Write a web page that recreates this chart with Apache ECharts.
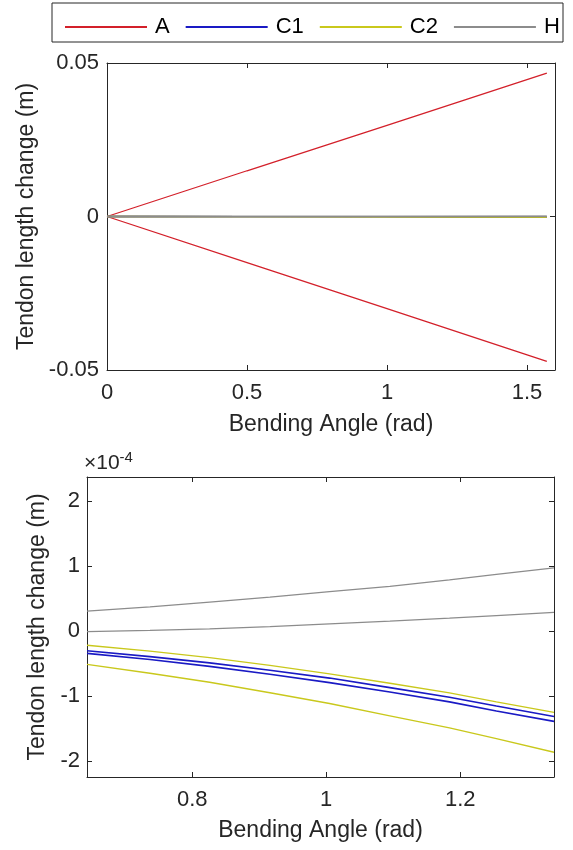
<!DOCTYPE html>
<html>
<head>
<meta charset="utf-8">
<script src="https://cdn.jsdelivr.net/npm/echarts@6/dist/echarts.min.js"></script>
<style>
html,body{margin:0;padding:0;background:#fff;}
#chart{width:573px;height:850px;}
</style>
</head>
<body>
<div id="chart"></div>
<script>
// ---------- data ----------
const seriesNames = ['A', 'C1', 'C2', 'H'];
const seriesColors = ['#d3202a', '#1a1ac4', '#c9c81c', '#8c8c8c'];

// Top panel (full range, metres)
const topX = [0, 0.5, 1.0, 1.5708];
const topA1 = [0, 0.0149, 0.0297, 0.0467];
const topA2 = [0, -0.0150, -0.0300, -0.0472];
const topC1a = [0, -0.00001, -0.00007, -0.00016];
const topC1b = [0, -0.00001, -0.00008, -0.00017];
const topC2a = [0, -0.00001, -0.00007, -0.00015];
const topC2b = [0, -0.00002, -0.00011, -0.00022];
const topHa = [0, 0.00002, 0.00006, 0.00011];
const topHb = [0, 0.00000, 0.00001, 0.00004];

// Bottom panel (zoom, units of 1e-4 m)
const botX = [0.643, 0.737, 0.826, 0.916, 1.005, 1.095, 1.184, 1.254, 1.340];
const botHa = [0.31, 0.375, 0.446, 0.523, 0.61, 0.69, 0.79, 0.875, 0.975];
const botHb = [-0.005, 0.012, 0.035, 0.07, 0.113, 0.155, 0.20, 0.24, 0.29];
const botC2a = [-0.215, -0.305, -0.405, -0.525, -0.655, -0.80, -0.948, -1.085, -1.246];
const botC1a = [-0.30, -0.39, -0.486, -0.60, -0.72, -0.866, -1.015, -1.15, -1.31];
const botC1b = [-0.34, -0.435, -0.54, -0.66, -0.79, -0.935, -1.086, -1.225, -1.385];
const botC2b = [-0.51, -0.645, -0.785, -0.945, -1.11, -1.30, -1.486, -1.65, -1.86];

// axis ranges / ticks
const topYTicks = [-0.05, 0, 0.05];
const topXRange = [0, 1.6];
const botXRange = [0.643, 1.34];
const botYRange = [-2.24, 2.37];

// ---------- chart ----------
const FONT = 'Liberation Sans, Arial, Helvetica, sans-serif';
const AX = '#262626';
function pairs(xs, ys) { return xs.map((x, i) => [x, ys[i]]); }

function mkLine(name, xs, ys, grid, width) {
  const ci = seriesNames.indexOf(name);
  return {
    type: 'line', name: name, xAxisIndex: grid * 2, yAxisIndex: grid * 2,
    data: pairs(xs, ys), symbol: 'none', smooth: false, animation: false,
    lineStyle: { color: seriesColors[ci], width: width },
    itemStyle: { color: seriesColors[ci] }, clip: true
  };
}

function xAx(grid, min, max, interval, name, gap, primary) {
  const o = {
    type: 'value', gridIndex: grid, min: min, max: max,
    position: primary ? 'bottom' : 'top',
    axisLine: { show: true, onZero: false, lineStyle: { color: AX, width: 1 } },
    axisTick: { show: true, inside: true, length: 5, lineStyle: { color: AX } },
    splitLine: { show: false },
    axisLabel: { show: primary, color: AX, fontSize: 22, fontFamily: FONT, margin: 12,
      showMinLabel: primary && min === 0, showMaxLabel: false },
  };
  if (interval) o.interval = interval; else o.splitNumber = 3;
  if (primary) {
    o.name = name; o.nameLocation = 'middle'; o.nameGap = gap;
    o.nameTextStyle = { color: AX, fontSize: 23, fontFamily: FONT };
  }
  return o;
}
function yAx(grid, min, max, interval, name, gap, primary, margin) {
  const o = {
    type: 'value', gridIndex: grid, min: min, max: max,
    position: primary ? 'left' : 'right',
    axisLine: { show: true, onZero: false, lineStyle: { color: AX, width: 1 } },
    axisTick: { show: true, inside: true, length: 5, lineStyle: { color: AX } },
    splitLine: { show: false },
    axisLabel: { show: primary, color: AX, fontSize: 22, fontFamily: FONT, margin: margin,
      showMinLabel: interval ? true : false, showMaxLabel: interval ? true : false },
  };
  if (interval) o.interval = interval; else o.splitNumber = 5;
  if (primary) {
    o.name = name; o.nameLocation = 'middle'; o.nameGap = gap;
    o.nameTextStyle = { color: AX, fontSize: 23, fontFamily: FONT };
  }
  return o;
}

const series = [
  mkLine('A', topX, topA1, 0, 1.3),
  mkLine('A', topX, topA2, 0, 1.3),
  mkLine('C1', topX, topC1a, 0, 1.3),
  mkLine('C1', topX, topC1b, 0, 1.3),
  mkLine('C2', topX, topC2a, 0, 1.3),
  mkLine('C2', topX, topC2b, 0, 1.3),
  mkLine('H', topX, topHa, 0, 1.3),
  mkLine('H', topX, topHb, 0, 1.3),
  mkLine('C1', botX, botC1a, 1, 1.6),
  mkLine('C1', botX, botC1b, 1, 1.6),
  mkLine('C2', botX, botC2a, 1, 1.4),
  mkLine('C2', botX, botC2b, 1, 1.4),
  mkLine('H', botX, botHa, 1, 1.3),
  mkLine('H', botX, botHb, 1, 1.3)
];

const chart = echarts.init(document.getElementById('chart'), null, { renderer: 'canvas' });
chart.setOption({
  backgroundColor: '#fff',
  animation: false,
  textStyle: { fontFamily: FONT },
  legend: {
    data: seriesNames, left: 60, top: 11, icon: 'rect', itemWidth: 82, itemHeight: 2,
    itemGap: 16, selectedMode: false,
    textStyle: { color: '#000', fontSize: 22, fontFamily: FONT, padding: [0, 0, 0, 3] }
  },
  graphic: [
    { type: 'rect', shape: { x: 52, y: 3, width: 511, height: 39 },
      style: { fill: 'none', stroke: AX, lineWidth: 1 } },
    { type: 'text', left: 84, top: 450,
      style: { text: '×10{s|-4}', fill: AX, font: '21px ' + FONT,
        rich: { s: { fontSize: 15, verticalAlign: 'top', padding: [0, 0, 12, 0], fill: AX, fontFamily: FONT } } } }
  ],
  grid: [
    { left: 107, right: 18, top: 63, height: 307 },
    { left: 87, right: 19, top: 477, height: 300 }
  ],
  xAxis: [
    xAx(0, topXRange[0], topXRange[1], 0.5, 'Bending Angle (rad)', 43, true),
    xAx(0, topXRange[0], topXRange[1], 0.5, '', 0, false),
    xAx(1, botXRange[0], botXRange[1], null, 'Bending Angle (rad)', 42, true),
    xAx(1, botXRange[0], botXRange[1], null, '', 0, false)
  ],
  yAxis: [
    yAx(0, topYTicks[0], topYTicks[2], 0.05, 'Tendon length change (m)', 67, true, 8),
    yAx(0, topYTicks[0], topYTicks[2], 0.05, '', 0, false, 8),
    yAx(1, botYRange[0], botYRange[1], null, 'Tendon length change (m)', 37, true, 7),
    yAx(1, botYRange[0], botYRange[1], null, '', 0, false, 7)
  ],
  series: series
});
</script>
</body>
</html>
